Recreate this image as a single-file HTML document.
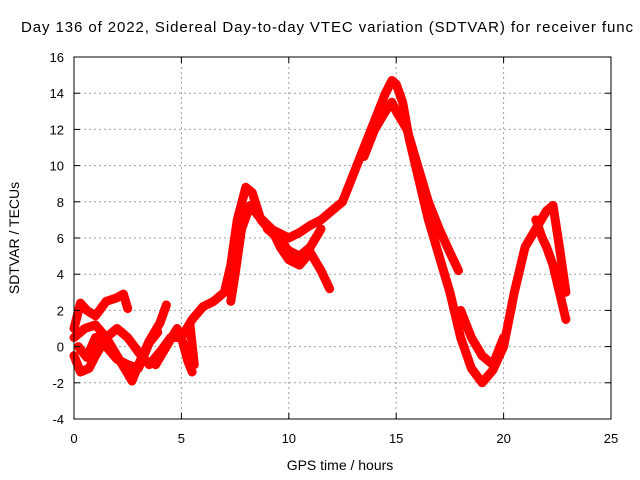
<!DOCTYPE html>
<html><head><meta charset="utf-8"><style>
body{margin:0;background:#fff;}
svg{display:block;font-family:"Liberation Sans",sans-serif;}
</style></head><body>
<svg id="c" width="640" height="480">
<text x="21" y="32" font-size="15" textLength="612" lengthAdjust="spacing" fill="#000">Day 136 of 2022, Sidereal Day-to-day VTEC variation (SDTVAR) for receiver func</text>
<g id="grid"></g><g id="series"></g><g id="axes"></g>
<text x="340" y="470" font-size="14" text-anchor="middle">GPS time / hours</text>
<text transform="translate(19,238) rotate(-90)" font-size="14" text-anchor="middle">SDTVAR / TECUs</text>
</svg>
<script>
const xTicks=[0,5,10,15,20,25];
const yTicks=[-4,-2,0,2,4,6,8,10,12,14,16];
const trackHours=[
[5,5.5,6,6.5,7,7.3,7.6,8,8.3,8.7,9,9.5,10,10.5,11,11.5,12,12.5,13,13.5,14,14.5,14.8,15,15.3,15.6,16,16.5,17,17.5,18,18.5,19,19.5,20,20.5,21,21.5,22,22.3,22.6,22.9],
[13.5,14,14.5,14.8,15,15.5,16,16.5,17,17.5,17.9],
[7.3,7.5,7.8,8.2,8.6,9.2,9.6,10,10.5,11,11.5,11.9],
[9,9.5,10,10.5,11,11.5],
[18,18.5,19,19.5,20],
[21.5,21.8,22,22.3,22.6,22.9],
[0,0.3,0.6,1,1.5,2,2.3,2.5],
[0,0.3,0.7,1,1.5,2,2.5,3,3.5,4,4.5,5,5.3,5.5],
[0,0.5,1,1.5,2,2.5,2.7,3,3.5,4,4.3],
[0.2,0.6,1,1.5,2,2.5,3,3.5,3.9],
[3.8,4.3,4.8,5,5.4,5.6]
];
const trackValues=[
[0.5,1.5,2.2,2.5,3,4.5,7,8.8,8.5,7,6.6,6.3,6,6.3,6.7,7,7.5,8,9.5,11,12.5,14,14.7,14.5,13.5,11.5,9.5,7,5,3,0.5,-1.2,-2,-1.3,0,3,5.5,6.5,7.5,7.8,5.5,3],
[10.5,12,13,13.5,13,12,10,8,6.5,5.2,4.2],
[2.5,4,6.5,7.8,7.2,6.5,5.5,4.8,4.5,5.2,4.2,3.2],
[6.5,6,5.3,5,5.5,6.5],
[2,0.5,-0.5,-1,0.5],
[7,6,5.5,4.5,3,1.5],
[1,2.4,2,1.7,2.5,2.7,2.9,2.1],
[-0.5,-1.4,-1.2,-0.5,0.5,1,0.5,-0.3,-1,-0.3,0.5,0.5,-0.8,-1.4],
[0.5,1,1.2,0.5,-0.5,-1.5,-1.9,-1,0.3,1.3,2.3],
[0,-0.6,0.5,0,-0.7,-1,-1.2,0.2,0.8],
[-1,0,1,0.5,1.2,-1]
];
const NS="http://www.w3.org/2000/svg";
const L=74,R=611,T=57,B=419;
const sx=v=>L+(v-0)/25*(R-L);
const sy=v=>B-(v+4)/20*(B-T);
const grid=document.getElementById('grid'),axes=document.getElementById('axes'),ser=document.getElementById('series');
function mk(tag,at,p){const e=document.createElementNS(NS,tag);for(const k in at)e.setAttribute(k,at[k]);p.appendChild(e);return e;}
xTicks.forEach(t=>{
  const x=sx(t);
  if(t>0&&t<25){const g=mk('line',{x1:x,x2:x,y1:T,y2:B,stroke:'#a0a0a0','stroke-dasharray':'2,3'},grid);
  
  }
  mk('line',{x1:x,x2:x,y1:B,y2:B-6,stroke:'#000'},axes);
  mk('line',{x1:x,x2:x,y1:T,y2:T+6,stroke:'#000'},axes);
  const tx=mk('text',{x:x,y:B+24,'font-size':13,'text-anchor':'middle'},axes);tx.textContent=t;
  
  
});
yTicks.forEach(t=>{
  const y=sy(t);
  if(t>-4&&t<16){const g=mk('line',{x1:L,x2:R,y1:y,y2:y,stroke:'#a0a0a0','stroke-dasharray':'2,3'},grid);
  
  }
  mk('line',{x1:L,x2:L+6,y1:y,y2:y,stroke:'#000'},axes);
  mk('line',{x1:R,x2:R-6,y1:y,y2:y,stroke:'#000'},axes);
  const tx=mk('text',{x:L-10,y:y+5,'font-size':13,'text-anchor':'end'},axes);tx.textContent=t;
  
  
});
const fr=mk('rect',{x:L,y:T,width:R-L,height:B-T,fill:'none',stroke:'#000'},axes);


trackHours.forEach((hs,i)=>{
  const vs=trackValues[i];
  const pts=hs.map((h,j)=>sx(h)+','+sy(vs[j])).join(' ');
  const p=mk('polyline',{points:pts,fill:'none',stroke:'#ff0000','stroke-width':9,'stroke-linejoin':'round','stroke-linecap':'round'},ser);
  
  
});
</script>
</body></html>
